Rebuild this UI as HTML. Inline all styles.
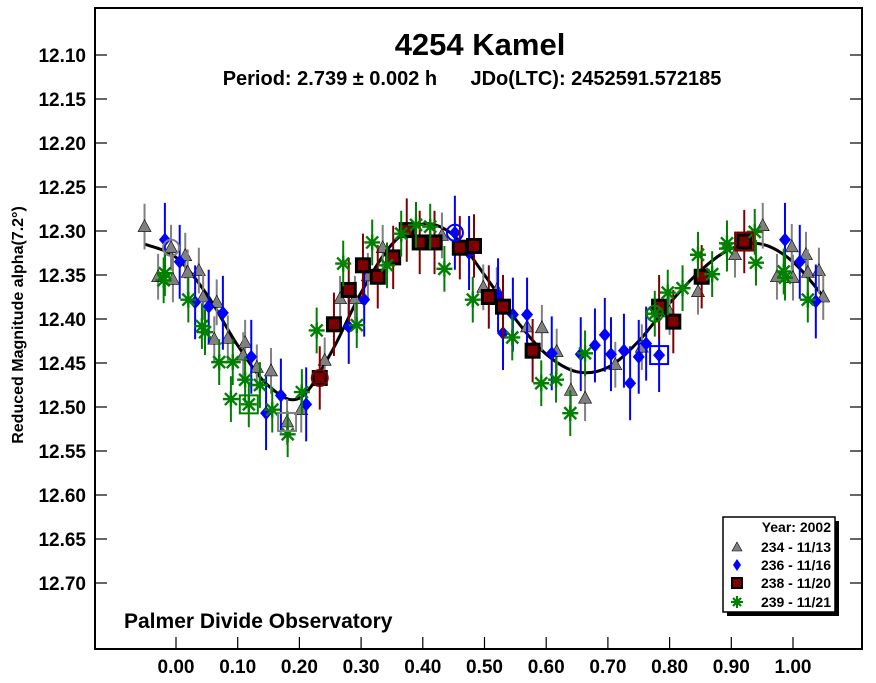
<!DOCTYPE html>
<html><head><meta charset="utf-8">
<style>
body{margin:0;background:#fff;}
svg{display:block;font-family:"Liberation Sans",Arial,sans-serif;font-weight:bold;}
</style></head>
<body>
<svg id="chart" width="876" height="683" viewBox="0 0 876 683" xmlns="http://www.w3.org/2000/svg">
<rect x="95" y="8" width="767" height="641" fill="#fff" stroke="#000" stroke-width="2"/>
<text x="480" y="55" text-anchor="middle" font-size="31">4254 Kamel</text>
<text x="472" y="85" text-anchor="middle" font-size="20" xml:space="preserve">Period: 2.739 ± 0.002 h      JDo(LTC): 2452591.572185</text>
<text transform="translate(23,325) rotate(-90)" text-anchor="middle" font-size="16">Reduced Magnitude alpha(7.2°)</text>
<text x="124" y="628" font-size="21">Palmer Divide Observatory</text>
<g id="axes"></g>
<g id="curve"></g>
<g id="marks"></g>
<g>
<rect x="727" y="521" width="112" height="95" fill="#000"/>
<rect x="723" y="517" width="112" height="95" fill="#fff" stroke="#000" stroke-width="1.5"/>
<text x="831" y="532" text-anchor="end" font-size="14">Year: 2002</text>
<polygon points="737,542 742,551 732,551" fill="#808080" stroke="#000" stroke-width="0.6"/>
<text x="831" y="552" text-anchor="end" font-size="14">234 - 11/13</text>
<polygon points="737,559 741,565 737,571 733,565" fill="#0000ff"/>
<text x="831" y="570" text-anchor="end" font-size="14">236 - 11/16</text>
<rect x="732" y="578" width="10" height="10" fill="#7f0000" stroke="#000" stroke-width="2"/>
<text x="831" y="588" text-anchor="end" font-size="14">238 - 11/20</text>
<g stroke="#008000" stroke-width="2.2"><line x1="737" y1="596" x2="737" y2="608"/><line x1="731" y1="602" x2="743" y2="602"/><line x1="733" y1="598" x2="741" y2="606"/><line x1="741" y1="598" x2="733" y2="606"/></g>
<text x="831" y="607" text-anchor="end" font-size="14">239 - 11/21</text>
</g>
</svg>
<script>
const xTicks=[0,0.1,0.2,0.3,0.4,0.5,0.6,0.7,0.8,0.9,1.0];
const yTicks=[12.10,12.15,12.20,12.25,12.30,12.35,12.40,12.45,12.50,12.55,12.60,12.65,12.70];
const s234x=[-0.051,-0.008,-0.029,-0.005,0.015,0.019,0.037,0.044,0.066,0.062,0.084,0.112,0.109,0.131,0.154,0.18,0.203,0.241,0.266,0.29,0.311,0.335,0.431,0.498,0.52,0.569,0.593,0.617,0.64,0.663,0.712,0.755,0.80,0.846,0.906,0.951,0.974,0.998,1.0,1.021,1.024,1.042,1.049];
const s234y=[12.295,12.319,12.352,12.355,12.328,12.347,12.345,12.375,12.381,12.423,12.422,12.427,12.441,12.455,12.459,12.517,12.503,12.447,12.377,12.377,12.351,12.319,12.305,12.364,12.367,12.409,12.41,12.437,12.481,12.49,12.452,12.432,12.392,12.369,12.327,12.294,12.352,12.318,12.353,12.327,12.347,12.345,12.375];
const s236x=[-0.018,0.006,0.031,0.053,0.076,0.122,0.146,0.17,0.211,0.28,0.305,0.452,0.475,0.522,0.53,0.546,0.569,0.609,0.656,0.679,0.695,0.705,0.726,0.736,0.75,0.762,0.783,0.987,1.011,1.037];
const s236y=[12.310,12.335,12.381,12.386,12.393,12.443,12.507,12.487,12.497,12.409,12.378,12.302,12.325,12.373,12.416,12.395,12.395,12.439,12.44,12.43,12.418,12.44,12.436,12.473,12.443,12.428,12.441,12.31,12.335,12.38];
const s238x=[0.233,0.256,0.28,0.303,0.327,0.352,0.374,0.395,0.419,0.46,0.483,0.507,0.53,0.578,0.783,0.806,0.852,0.921];
const s238y=[12.467,12.406,12.367,12.339,12.352,12.33,12.299,12.313,12.313,12.319,12.317,12.375,12.386,12.436,12.386,12.403,12.352,12.312];
const s239x=[-0.018,-0.02,0.02,0.042,0.047,0.07,0.092,0.112,0.089,0.118,0.136,0.156,0.181,0.204,0.228,0.271,0.293,0.318,0.342,0.365,0.389,0.412,0.435,0.481,0.545,0.592,0.616,0.639,0.663,0.776,0.797,0.821,0.846,0.869,0.893,0.893,0.94,0.938,0.987,0.985,1.024];
const s239y=[12.348,12.356,12.378,12.408,12.415,12.449,12.449,12.469,12.491,12.497,12.475,12.503,12.531,12.483,12.413,12.337,12.407,12.313,12.339,12.303,12.293,12.295,12.343,12.378,12.421,12.473,12.469,12.507,12.439,12.394,12.37,12.365,12.327,12.349,12.314,12.32,12.336,12.301,12.353,12.346,12.378];
const fitX=[-0.05,0,0.05,0.10,0.15,0.20,0.25,0.30,0.35,0.40,0.45,0.50,0.55,0.60,0.65,0.70,0.75,0.80,0.85,0.90,0.95,1.00,1.05];
const fitY=[12.315,12.33,12.372,12.43,12.476,12.49,12.44,12.37,12.315,12.292,12.305,12.35,12.40,12.44,12.46,12.455,12.425,12.382,12.345,12.32,12.315,12.335,12.375];
const errs={s234:0.026,s236:0.042,s238:0.036,s239:0.026};
const NS="http://www.w3.org/2000/svg";
const X=p=>176+(p-0)*617;
const Y=m=>55+(m-12.10)*880;
function mk(tag,attrs,parent){const e=document.createElementNS(NS,tag);for(const k in attrs)e.setAttribute(k,attrs[k]);parent.appendChild(e);return e;}
const axes=document.getElementById('axes'),marks=document.getElementById('marks'),curveG=document.getElementById('curve');
xTicks.forEach(t=>{
  const l=mk('line',{x1:X(t),x2:X(t),y1:637,y2:649,stroke:'#000','stroke-width':1.2},axes);
  
  
  const tx=mk('text',{x:X(t),y:673,'text-anchor':'middle','font-size':19},axes);
  tx.textContent=t.toFixed(2);
  
  
});
yTicks.forEach(t=>{
  const l=mk('line',{x1:95,x2:107,y1:Y(t),y2:Y(t),stroke:'#000','stroke-width':1.2},axes);
  
  
  const r=mk('line',{x1:850,x2:862,y1:Y(t),y2:Y(t),stroke:'#000','stroke-width':1.2},axes);
  
  
  const tx=mk('text',{x:86,y:Y(t)+7,'text-anchor':'end','font-size':19},axes);
  tx.textContent=t.toFixed(2);
  
  
});
let pts=fitX.map((x,i)=>[X(x),Y(fitY[i])]);
let d='M'+pts[0][0]+','+pts[0][1];
for(let i=0;i<pts.length-1;i++){const p0=pts[Math.max(0,i-1)],p1=pts[i],p2=pts[i+1],p3=pts[Math.min(pts.length-1,i+2)];
 d+=` C${p1[0]+(p2[0]-p0[0])/6},${p1[1]+(p2[1]-p0[1])/6} ${p2[0]-(p3[0]-p1[0])/6},${p2[1]-(p3[1]-p1[1])/6} ${p2[0]},${p2[1]}`;}
const fc=mk('path',{d:d,fill:'none',stroke:'#000','stroke-width':3},curveG);


function err(x,y,e,col){const l=mk('line',{x1:X(x),x2:X(x),y1:Y(y-e),y2:Y(y+e),stroke:col,'stroke-width':2},marks);
 
 }
s234x.forEach((x,i)=>{const y=s234y[i];err(x,y,errs.s234,'#808080');const cx=X(x),cy=Y(y);
 const p=mk('polygon',{points:`${cx},${cy-7} ${cx+6.5},${cy+5} ${cx-6.5},${cy+5}`,fill:'#808080',stroke:'#000','stroke-width':0.6},marks);
 
 });
s236x.forEach((x,i)=>{const y=s236y[i];err(x,y,errs.s236,'#0000ff');const cx=X(x),cy=Y(y);
 const p=mk('polygon',{points:`${cx},${cy-7} ${cx+6},${cy} ${cx},${cy+7} ${cx-6},${cy}`,fill:'#0000ff'},marks);
 
 });
s238x.forEach((x,i)=>{const y=s238y[i];err(x,y,errs.s238,'#7f0000');const cx=X(x),cy=Y(y);
 const p=mk('rect',{x:cx-6.5,y:cy-6.5,width:13,height:13,fill:'#7f0000',stroke:'#000','stroke-width':3},marks);
 
 });
s239x.forEach((x,i)=>{const y=s239y[i];err(x,y,errs.s239,'#008000');const cx=X(x),cy=Y(y);
 const g=mk('g',{stroke:'#008000','stroke-width':2.4},marks);
 
 
 mk('line',{x1:cx,y1:cy-8,x2:cx,y2:cy+8},g);mk('line',{x1:cx-8,y1:cy,x2:cx+8,y2:cy},g);
 mk('line',{x1:cx-6,y1:cy-6,x2:cx+6,y2:cy+6},g);mk('line',{x1:cx+6,y1:cy-6,x2:cx-6,y2:cy+6},g);});
const refX=[-0.008,0.18,0.118,0.233,0.452,0.776,0.783,0.921];
const refY=[12.319,12.517,12.497,12.467,12.302,12.394,12.441,12.312];
const refShape=['c','s','s','c','c','c','s','s'];
const refCol=['#808080','#808080','#008000','#7f0000','#0000ff','#008000','#0000ff','#7f0000'];
refX.forEach((x,i)=>{const cx=X(x),cy=Y(refY[i]);let e;
 if(refShape[i]==='c')e=mk('circle',{cx:cx,cy:cy,r:8,fill:'none',stroke:refCol[i],'stroke-width':2},marks);
 else e=mk('rect',{x:cx-9,y:cy-9,width:18,height:18,fill:'none',stroke:refCol[i],'stroke-width':2},marks);
 
 });
</script>
</body></html>
